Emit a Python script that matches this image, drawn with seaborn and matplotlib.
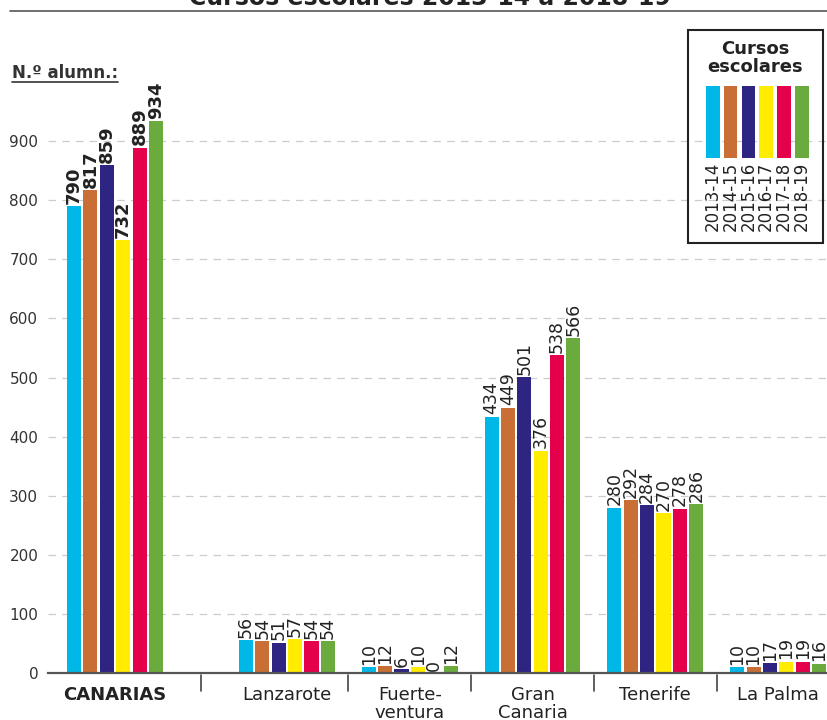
import numpy as np
import pandas as pd
import matplotlib
matplotlib.use("Agg")
import matplotlib.pyplot as plt
from matplotlib.patches import Rectangle
from matplotlib.lines import Line2D
import seaborn as sns

# ---- data ----
islands = ["CANARIAS", "Lanzarote", "Fuerte-\nventura", "Gran\nCanaria", "Tenerife", "La Palma"]
courses = ["2013-14", "2014-15", "2015-16", "2016-17", "2017-18", "2018-19"]
canarias = [790, 817, 859, 732, 889, 934]
lanzarote = [56, 54, 51, 57, 54, 54]
fuerteventura = [10, 12, 6, 10, 0, 12]
gran_canaria = [434, 449, 501, 376, 538, 566]
tenerife = [280, 292, 284, 270, 278, 286]
la_palma = [10, 10, 17, 19, 19, 16]
yticks = [0, 100, 200, 300, 400, 500, 600, 700, 800, 900]
title = "Cursos escolares 2013-14 a 2018-19"
ylabel = "N.º alumn.:"
legend_title = "Cursos\nescolares"

colors = ["#00B8E8", "#C96E35", "#2E2481", "#FFEC00", "#E4004B", "#6BAB3E"]

values = [canarias, lanzarote, fuerteventura, gran_canaria, tenerife, la_palma]
# group positions (layout): extra gap after the total
pos = [0.0, 1.4, 2.4, 3.4, 4.4, 5.4]
rows = []
for gi, (isl, vals) in enumerate(zip(islands, values)):
    for c, v in zip(courses, vals):
        rows.append({"pos": pos[gi], "island": isl, "course": c, "value": v})
df = pd.DataFrame(rows)

sns.set_theme(style="white")
plt.rcParams["font.family"] = ["DejaVu Sans"]

fig = plt.figure(figsize=(8.27, 7.2), dpi=100)
W, H = 827, 720
ax_left, ax_right, ax_bottom, ax_top = 48, 827, 673, 20
ax = fig.add_axes([ax_left / W, (H - ax_bottom) / H, (ax_right - ax_left) / W, (ax_bottom - ax_top) / H])

sns.barplot(data=df, x="pos", y="value", hue="course", hue_order=courses,
            palette=colors, native_scale=True, width=0.8, gap=0.14,
            saturation=1, edgecolor="none", legend=False, ax=ax)

px_per_unit = 122.8
x0 = -(115 - ax_left) / px_per_unit
ax.set_xlim(x0, x0 + (ax_right - ax_left) / px_per_unit)
ax.set_ylim(0, (ax_bottom - ax_top) / 0.591)

# grid
ax.set_yticks(yticks)
ax.set_yticklabels([str(t) for t in yticks], fontsize=11, color="#333333")
ax.tick_params(axis="y", length=0, pad=7)
for t in yticks[1:]:
    ax.axhline(t, color="#cccccc", lw=0.9, ls=(0, (6, 5)), zorder=0)
for s in ["top", "right", "left"]:
    ax.spines[s].set_visible(False)
ax.spines["bottom"].set_color("#555555")
ax.spines["bottom"].set_linewidth(1.6)

# x tick labels
ax.set_xticks(pos)
ax.set_xticklabels(islands, fontsize=13, color="#222222", linespacing=1.0)
ax.tick_params(axis="x", length=0, pad=9)
ax.get_xticklabels()[0].set_fontweight("bold")
ax.set_xlabel("")
ax.set_ylabel("")

# separators
for i in range(len(pos) - 1):
    xm = (pos[i] + pos[i + 1]) / 2
    ax.plot([xm, xm], [-3, -30], color="#444444", lw=1.2, clip_on=False)

# value labels
for cont in ax.containers:
    for bar in cont:
        h = bar.get_height()
        xc = bar.get_x() + bar.get_width() / 2
        is_total = abs(xc - pos[0]) < 0.5
        ax.text(xc, h + 4, f"{int(round(h))}", rotation=90, ha="center", va="bottom",
                fontsize=13 if is_total else 12.5,
                fontweight="bold" if is_total else "normal", color="#222222")

# title (cut off at top) and line
fig.text(0.52, 1 - 5 / H, title, ha="center", va="baseline", fontsize=17, fontweight="bold", color="#222222")
fig.add_artist(Line2D([10 / W, 1.0], [(H - 11) / H, (H - 11) / H], color="#555555", lw=1.2))

# y label
fig.text(12 / W, (H - 73) / H, ylabel, ha="left", va="center", fontsize=12, fontweight="bold", color="#333333")
fig.add_artist(Line2D([12 / W, 118 / W], [(H - 82) / H, (H - 82) / H], color="#333333", lw=1.2))

# legend box
fig.add_artist(Rectangle((688 / W, (H - 243) / H), (823 - 688) / W, (243 - 30) / H,
                         transform=fig.transFigure, fill=False, edgecolor="#222222", lw=1.5))
fig.text(755 / W, (H - 58) / H, legend_title, ha="center", va="center", fontsize=13,
         fontweight="bold", color="#222222", linespacing=1.0)
for i, c in enumerate(courses):
    xl = 706 + i * 17.8
    fig.add_artist(Rectangle((xl / W, (H - 158) / H), 13.5 / W, 72 / H,
                             transform=fig.transFigure, color=colors[i], lw=0))
    fig.text((xl + 6.75) / W, (H - 162) / H, c, rotation=90, ha="center", va="top",
             fontsize=12, color="#222222")

fig.savefig("out.png", dpi=100)
